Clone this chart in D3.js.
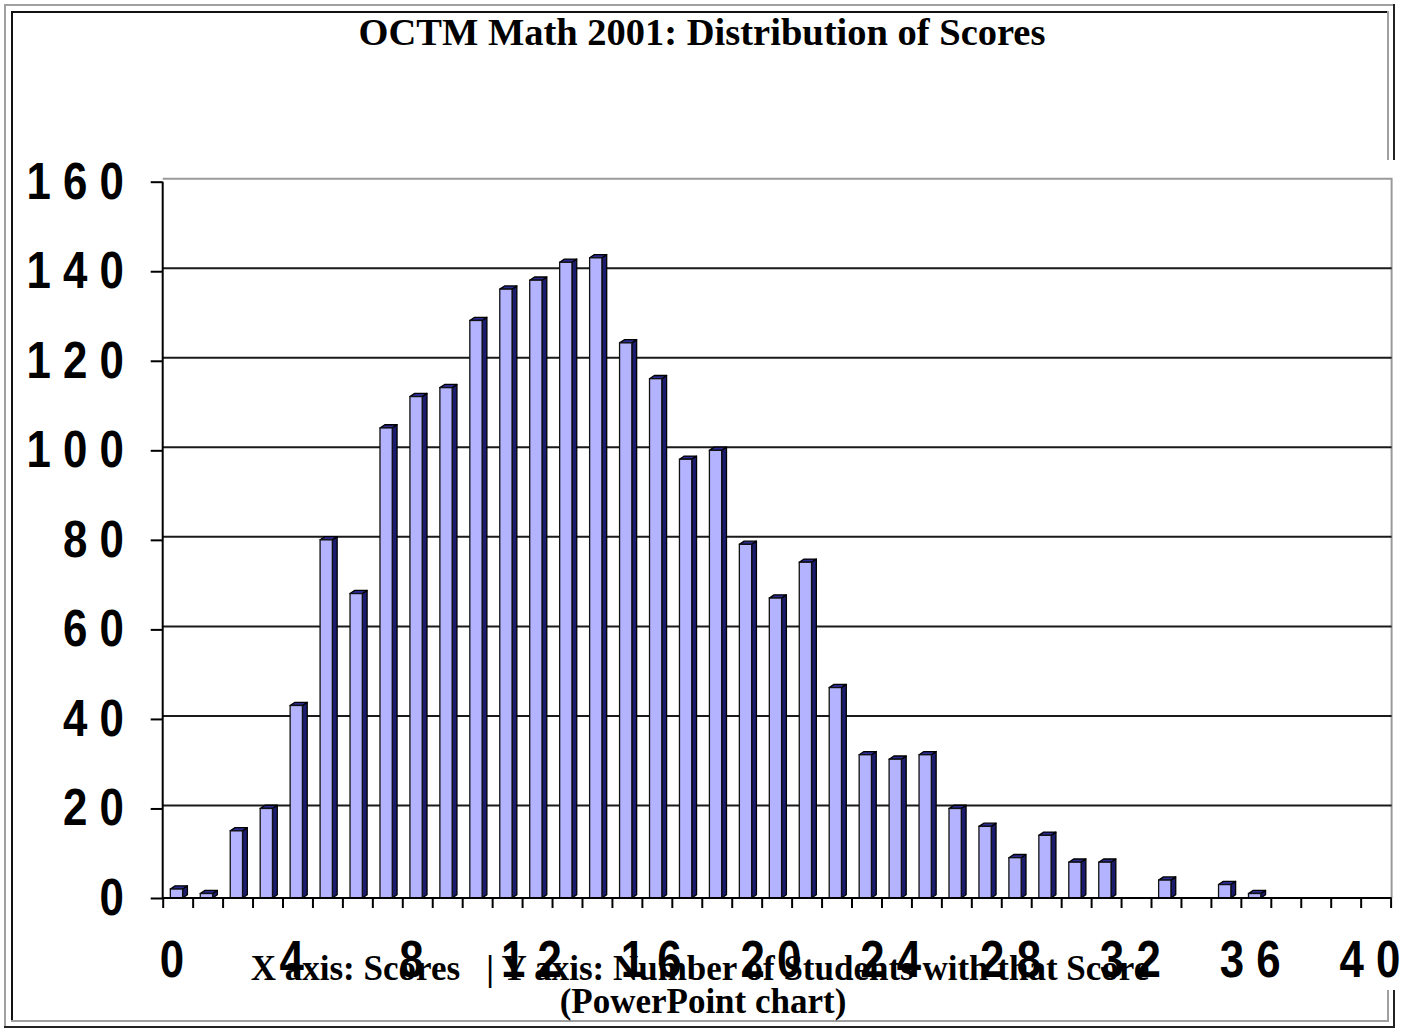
<!DOCTYPE html>
<html>
<head>
<meta charset="utf-8">
<script src="https://cdn.jsdelivr.net/npm/d3@7"></script>
<style>
  html, body { margin: 0; padding: 0; background: #fff; }
  svg { display: block; }
</style>
</head>
<body>
<script>
// ---- data ----
const scores = [0,1,2,3,4,5,6,7,8,9,10,11,12,13,14,15,16,17,18,19,20,21,22,23,24,25,26,27,28,29,30,31,32,33,34,35,36,37,38,39,40];
const counts = [2,1,15,20,43,80,68,105,112,114,129,136,138,142,143,124,116,98,100,79,67,75,47,32,31,32,20,16,9,14,8,8,0,4,0,3,1,0,0,0,0];
const yTicks = [0,20,40,60,80,100,120,140,160];
const xLabelTicks = [0,4,8,12,16,20,24,28,32,36,40];
const titleText = "OCTM Math 2001: Distribution of Scores";
const footLine1 = "X axis: Scores\u00a0\u00a0\u00a0| Y axis: Number of Students with that Score";
const footLine2 = "(PowerPoint chart)";

// ---- layout ----
const W = 1416, H = 1032;
const svg = d3.select("body").append("svg").attr("width", W).attr("height", H);
svg.append("rect").attr("width", W).attr("height", H).attr("fill", "#fff");

// table-like borders
const gray = "#a0a0a0";
function line(x1,y1,x2,y2,c,w){ svg.append("line").attr("x1",x1).attr("y1",y1).attr("x2",x2).attr("y2",y2).attr("stroke",c).attr("stroke-width",w); }
// outer (outset)
line(4,5,1395,5,gray,2);
line(5,4,5,1028,gray,2);
line(4,1027,1395,1027,"#222",2);
line(1394,4,1394,160,"#222",2);
line(1394,990,1394,1028,"#222",2);
// inner (inset)
line(11,12,1389,12,"#111",2);
line(12,11,12,1022,"#111",2);
line(11,1021,1389,1021,gray,2);
line(1388,11,1388,160,gray,2);
line(1388,990,1388,1022,gray,2);

// title
svg.append("text").attr("x", 702).attr("y", 45)
  .attr("text-anchor","middle")
  .attr("font-family","'Liberation Serif','Times New Roman',serif")
  .attr("font-weight","bold").attr("font-size", 38.5)
  .text(titleText);

// ---- scales ----
const x0 = 162.7, x1 = 1390.6, yBase = 898, yTop = 181.7;
const x = d3.scaleBand().domain(scores).range([x0, x1]).paddingInner(0).paddingOuter(0);
const xt = d3.scaleLinear().domain([0, scores.length]).range([x0, x1]);
const y = d3.scaleLinear().domain([0, 160]).range([yBase, yTop]);
const bw = x.bandwidth();
const dx = 4.8, dy = 3.2;

// plot area back wall border
const plot = svg.append("g");
plot.append("path")
  .attr("d", `M${x0},${y(160)-3} H${x1+1} V${yBase}`)
  .attr("fill","none").attr("stroke","#9a9a9a").attr("stroke-width",2);

// gridlines (back wall, shifted)
plot.selectAll("line.grid").data(yTicks.filter(v => v > 0 && v < 160)).join("line")
  .attr("class","grid")
  .attr("x1", x0).attr("x2", x1 + 1)
  .attr("y1", d => y(d) - 3).attr("y2", d => y(d) - 3)
  .attr("stroke","#1a1a1a").attr("stroke-width",2);

// bars
const barData = scores.map((s,i) => ({s, v: counts[i]})).filter(d => d.v > 0);
const bars = plot.selectAll("g.bar").data(barData).join("g").attr("class","bar");
const fx = d => x(d.s) + bw * 0.255;
const fw = bw * 0.41;
bars.append("path") // side
  .attr("d", d => { const xr = fx(d)+fw, yt = y(d.v);
    return `M${xr},${yt} L${xr+dx},${yt-dy} L${xr+dx},${yBase-dy} L${xr},${yBase} Z`; })
  .attr("fill","#1c1c6e").attr("stroke","#000").attr("stroke-width",1.3).attr("stroke-linejoin","round");
bars.append("path") // top
  .attr("d", d => { const xl = fx(d), xr = fx(d)+fw, yt = y(d.v);
    return `M${xl},${yt} L${xl+dx},${yt-dy} L${xr+dx},${yt-dy} L${xr},${yt} Z`; })
  .attr("fill","#2a2a90").attr("stroke","#000").attr("stroke-width",1.3).attr("stroke-linejoin","round");
bars.append("rect") // front
  .attr("x", d => fx(d)).attr("y", d => y(d.v))
  .attr("width", fw).attr("height", d => yBase - y(d.v))
  .attr("fill","#b3b3ff").attr("stroke","#111").attr("stroke-width",1.3);

// axes
const yAxis = svg.append("g").attr("transform", `translate(${x0},0)`)
  .call(d3.axisLeft(y).tickValues(yTicks).tickSize(12).tickFormat(""));
yAxis.select(".domain").attr("d", `M0,${y(160)}V${yBase}`).attr("stroke","#000").attr("stroke-width",2);
yAxis.selectAll(".tick line").attr("stroke","#000").attr("stroke-width",2);

const xAxis = svg.append("g").attr("transform", `translate(0,${yBase})`)
  .call(d3.axisBottom(xt).tickValues(d3.range(0, scores.length + 1)).tickSize(10).tickFormat(""));
xAxis.select(".domain").attr("d", `M${x0},0H${x1+1}`).attr("stroke","#000").attr("stroke-width",2);
xAxis.selectAll(".tick line").attr("stroke","#000").attr("stroke-width",2);

// tick labels (spaced digits, narrow bold)
const spaced = v => String(v).split("").join(" ");
const labFont = "'Liberation Sans',Arial,sans-serif";
svg.selectAll("g.ylab").data(yTicks).join("g").attr("class","ylab")
  .attr("transform", d => `translate(124,${y(d) + 17}) scale(0.86,1.02)`)
  .append("text").attr("text-anchor","end")
  .attr("font-family", labFont).attr("font-weight","bold").attr("font-size", 51)
  .text(d => spaced(d));

svg.selectAll("g.xlab").data(xLabelTicks).join("g").attr("class","xlab")
  .attr("transform", d => `translate(${x(d) + bw/2 - 5.7},977) scale(0.86,1.02)`)
  .append("text").attr("text-anchor","middle")
  .attr("font-family", labFont).attr("font-weight","bold").attr("font-size", 51)
  .text(d => spaced(d));

// footer text
const foot = svg.append("text").attr("text-anchor","middle")
  .attr("font-family","'Liberation Serif','Times New Roman',serif")
  .attr("font-weight","bold").attr("font-size", 35);
foot.append("tspan").attr("x", 700).attr("y", 980).text(footLine1);
foot.append("tspan").attr("x", 703).attr("y", 1013).text(footLine2);
</script>
</body>
</html>
